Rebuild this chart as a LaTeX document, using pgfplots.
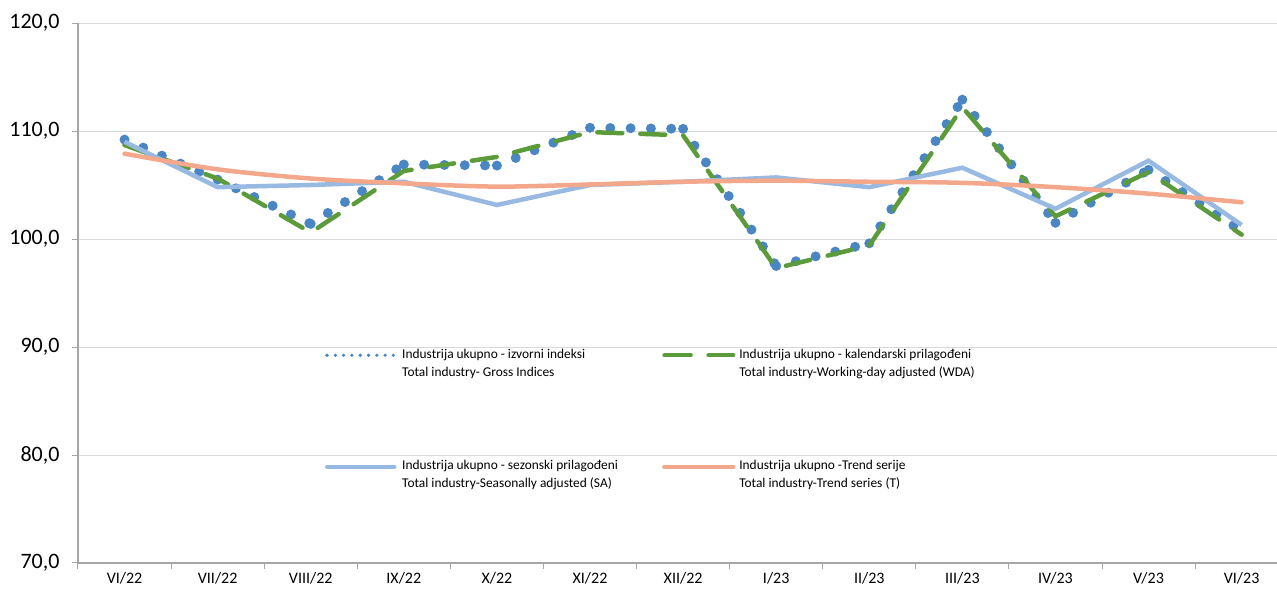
\documentclass[border=0pt]{standalone}
\usepackage{fontspec}
\setmainfont{Carlito}
\usepackage{pgfplots}
\pgfplotsset{compat=1.18}
\usetikzlibrary{decorations.pathreplacing}
\definecolor{cGross}{RGB}{74,134,196}
\definecolor{cWDA}{RGB}{92,155,58}
\definecolor{cSA}{RGB}{151,185,226}
\definecolor{cT}{RGB}{243,168,140}
\definecolor{cGrid}{RGB}{217,217,217}
\definecolor{cAx}{RGB}{166,166,166}
\begin{document}
\begin{tikzpicture}
\begin{axis}[
  at={(0pt,0pt)}, anchor=south west,
  scale only axis, width=1199pt, height=540pt,
  xmin=-0.5, xmax=12.38, ymin=70, ymax=120,
  axis x line=bottom, axis y line=left,
  axis line style={-, draw=cAx, line width=1.2pt},
  xtick={0,...,12},
  xticklabels={VI/22,VII/22,VIII/22,IX/22,X/22,XI/22,XII/22,I/23,II/23,III/23,IV/23,V/23,VI/23},
  minor xtick={-0.5,0.5,...,11.5},
  major x tick style={draw=none},
  minor x tick style={draw=cAx, line width=1pt},
  ytick={70,80,...,120},
  ytick style={draw=cAx, line width=1pt},
  tick align=outside, major tick length=6pt, minor tick length=6pt,
  ymajorgrids, major grid style={draw=cGrid, line width=1pt},
  yticklabel style={font=\fontsize{22}{26}\selectfont, xshift=-9pt},
  xticklabel style={font=\fontsize{16}{19}\selectfont},
  /pgf/number format/.cd, fixed, fixed zerofill, precision=1, use comma, 1000 sep={}, assume math mode=true,
  /pgfplots/.cd,
  legend columns=2,
  legend cell align=left,
  legend style={draw=none, fill=none, inner sep=0pt, outer sep=0pt,
    at={(0.206,0.40)}, anchor=north west,
    font=\fontsize{13.4}{17.7}\selectfont,
    cells={align=left},
    /tikz/every odd column/.append style={column sep=0pt},
    /tikz/every even column/.append style={column sep=42pt},
    row sep=79pt},
]
\addplot[decorate, decoration={show path construction,
    lineto code={\draw[cGross, line width=10pt, line cap=round, dash pattern=on 0pt off 20.3pt] (\tikzinputsegmentfirst) -- (\tikzinputsegmentlast);}},
  legend image code/.code={\path[decorate=false, draw=none] (0pt,8pt) -- (75pt,8pt);\draw[decorate=false, cGross, line width=3.6pt, line cap=round, dash pattern=on 0pt off 8.3pt] (1.8pt,8pt) -- (68.5pt,8pt);}]
  coordinates {(0,109.2) (1,105.5) (2,101.4) (3,106.9) (4,106.8) (5,110.3) (6,110.2) (7,97.5) (8,99.6) (9,112.9) (10,101.5) (11,106.4) (12,100.75)};
\addlegendentry{Industrija ukupno - izvorni indeksi\\Total industry- Gross Indices}
\addplot[cWDA, line width=4.5pt, line cap=round, dash pattern=on 25pt off 18pt,
  legend image code/.code={\path[draw=none] (0pt,8pt) -- (75pt,8pt);\draw[cWDA, line width=4pt, line cap=round, dash pattern=on 26.5pt off 17.5pt] (2pt,8pt) -- (71pt,8pt);}]
  coordinates {(0,108.7) (1,105.6) (2,100.6) (3,106.3) (4,107.6) (5,109.9) (6,109.6) (7,97.3) (8,99.4) (9,112.2) (10,102.1) (11,106.2) (12,100.4)};
\addlegendentry{Industrija ukupno - kalendarski prilagođeni\\Total industry-Working-day adjusted (WDA)}
\addplot[cSA, line width=4.5pt,
  legend image code/.code={\path[draw=none] (0pt,8pt) -- (75pt,8pt);\draw[cSA, line width=4.5pt, line cap=round] (2pt,8pt) -- (69pt,8pt);}]
  coordinates {(0,109.0) (1,104.8) (2,105.0) (3,105.3) (4,103.15) (5,105.0) (6,105.3) (7,105.7) (8,104.8) (9,106.6) (10,102.8) (11,107.25) (12,101.3)};
\addlegendentry{Industrija ukupno - sezonski prilagođeni\\Total industry-Seasonally adjusted (SA)}
\addplot[cT, line width=4.5pt, smooth, line cap=round,
  legend image code/.code={\path[draw=none] (0pt,8pt) -- (75pt,8pt);\draw[cT, line width=4.5pt, line cap=round] (2pt,8pt) -- (71pt,8pt);}]
  coordinates {(0,107.9) (1,106.45) (2,105.6) (3,105.15) (4,104.85) (5,105.05) (6,105.3) (7,105.4) (8,105.3) (9,105.2) (10,104.8) (11,104.2) (12,103.4)};
\addlegendentry{Industrija ukupno -Trend serije\\Total industry-Trend series (T)}
\end{axis}
\pgfresetboundingbox
\path (-78pt,-26pt) rectangle (1199pt,563pt);
\end{tikzpicture}
\end{document}
